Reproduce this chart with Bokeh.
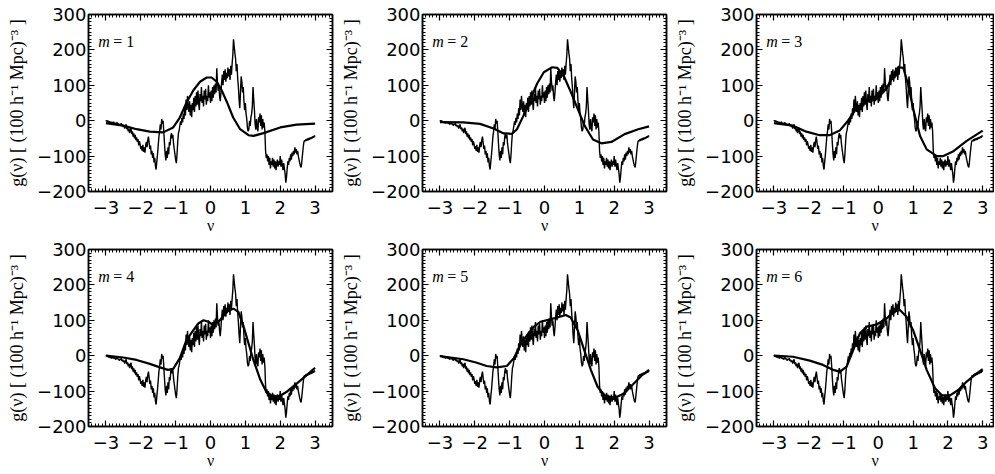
from bokeh.plotting import figure
from bokeh.layouts import gridplot
from bokeh.models import LinearAxis, SingleIntervalTicker, Label, Range1d, CustomJSTickFormatter
from bokeh.embed import file_html
from bokeh.resources import INLINE

# Observed curve g(nu), sampled every 0.02 in nu from -3 to 3 (same in every panel)
nu_obs = [round(-3.0 + 0.02 * i, 2) for i in range(301)]
g_obs = [
    # -3.00 .. -2.50
    -2, 1, -3, 0, -5, -2, -6, -3, -8, -4, -7, -3, -9, -6, -11, -7, -5, -10, -8, -14,
    -9, -12, -7, -15, -11, -18,
    # -2.48 .. -2.00
    -13, -22, -16, -10, -24, -19, -30, -22, -35, -27, -20, -38, -30, -45, -36, -50,
    -40, -55, -47, -60, -52, -70, -58, -66, -80,
    # -1.98 .. -1.50
    -72, -85, -68, -88, -75, -90, -70, -60, -75, -55, -45, -62, -80, -70, -95, -85,
    -105, -92, -118, -105, -128, -138, -115, -95, -70,
    # -1.48 .. -1.00
    -45, -30, -10, -25, 5, -8, 0, -30, -65, -95, -112, -85, -105, -75, -95, -60,
    -70, -45, -35, -50, -40, -65, -80, -95, -110,
    # -0.98 .. -0.50
    -120, -95, -60, -35, -28, -15, -2, -12, 8, -5, 20, 5, 35, 15, 60, 30,
    70, 40, 25, 55, 15, 45, 10, 50, 30,
    # -0.48 .. 0.00
    65, 25, 70, 40, 80, 45, 85, 50, 30, 75, 55, 95, 50, 70, 40, 85,
    60, 90, 45, 70, 55, 100, 65, 80, 50,
    # 0.02 .. 0.50
    85, 55, 95, 65, 100, 75, 105, 80, 148, 110, 85, 100, 70, 55, 80, 110,
    130, 100, 140, 115, 145, 110, 135, 120, 150,
    # 0.52 .. 1.00
    125, 145, 115, 155, 130, 160, 185, 230, 210, 190, 175, 140, 160, 120, 95, 60,
    35, 80, 125, 110, 80, 95, 55, 30, 50,
    # 1.02 .. 1.50
    20, 5, -20, -30, -25, 0, -15, 10, 20, 40, 95, 60, 30, -10, -25, 5,
    -20, -30, 10, -5, 20, -15, 15, -25, 5,
    # 1.52 .. 2.00
    -20, -5, -30, -85, -105, -95, -115, -100, -125, -105, -135, -115, -125, -105, -130, -110,
    -135, -115, -140, -120, -110, -130, -115, -125, -100,
    # 2.02 .. 2.50
    -130, -110, -125, -140, -120, -135, -150, -175, -160, -135, -115, -125, -105, -115, -95, -110,
    -90, -100, -85, -95, -75, -90, -80, -95, -85,
    # 2.52 .. 3.00
    -100, -110, -120, -128, -132, -115, -95, -75, -60, -55, -58, -52, -57, -50, -55, -49,
    -54, -47, -52, -46, -50, -44, -48, -42, -45,
]

# Model curves, one per panel
nu_m1 = [-3.0, -2.5, -2.12, -1.74, -1.36, -1.07, -0.88, -0.68, -0.49, -0.3,
         -0.11, 0.03, 0.18, 0.32, 0.47, 0.65, 0.85, 1.09, 1.23, 1.52, 2.0, 2.47, 3.0]
g_m1 = [-7, -14, -24, -31, -33, -19, 9, 53, 86, 110,
        122, 122, 110, 86, 53, 9, -24, -41, -43, -35, -19, -11, -8]

nu_m2 = [-3.0, -2.33, -1.85, -1.46, -1.17, -0.93, -0.79, -0.6, -0.4, -0.21,
         -0.02, 0.22, 0.37, 0.56, 0.75, 0.95, 1.15, 1.39, 1.63, 1.92, 2.3, 2.69, 3.0]
g_m2 = [-4, -5, -9, -22, -36, -37, -24, 15, 62, 105,
        137, 151, 149, 125, 82, 34, -14, -53, -64, -60, -38, -24, -16]

nu_m3 = [-3.0, -2.45, -2.07, -1.68, -1.4, -1.11, -0.87, -0.63, -0.34, -0.05,
         0.24, 0.43, 0.57, 0.72, 0.86, 1.0, 1.2, 1.39, 1.68, 1.87, 2.16, 2.54, 3.0]
g_m3 = [-7, -14, -31, -41, -41, -28, 0, 34, 53, 61,
        91, 130, 151, 149, 101, 34, -43, -81, -100, -100, -86, -57, -28]

nu_m4 = [-3.0, -2.5, -2.12, -1.74, -1.45, -1.22, -1.07, -0.88, -0.69, -0.49,
         -0.35, -0.2, -0.06, 0.08, 0.27, 0.47, 0.66, 0.8, 0.95, 1.09,
         1.23, 1.43, 1.62, 1.81, 2.0, 2.2, 2.48, 2.77, 3.0]
g_m4 = [0, -5, -12, -23, -33, -40, -37, -7, 44, 72,
        91, 100, 96, 86, 100, 124, 133, 124, 82, 35,
        -12, -68, -106, -115, -113, -101, -78, -54, -34]

nu_m5 = [-3.0, -2.33, -1.94, -1.66, -1.37, -1.08, -0.88, -0.69, -0.5, -0.3,
         -0.11, 0.13, 0.37, 0.61, 0.75, 0.95, 1.14, 1.33, 1.52, 1.71,
         2.0, 2.29, 2.57, 2.81, 3.0]
g_m5 = [-1, -10, -20, -29, -33, -29, -7, 30, 58, 82,
        96, 102, 108, 115, 108, 72, 16, -40, -87, -111,
        -120, -106, -78, -54, -40]

nu_m6 = [-3.0, -2.45, -1.97, -1.59, -1.3, -1.1, -0.91, -0.72, -0.53, -0.33,
         -0.05, 0.24, 0.43, 0.62, 0.81, 1.0, 1.2, 1.39, 1.63, 1.82,
         2.06, 2.3, 2.54, 2.83, 3.0]
g_m6 = [0, -3, -14, -26, -40, -45, -31, 16, 63, 82,
        88, 105, 124, 129, 110, 72, 16, -40, -92, -111,
        -112, -97, -73, -50, -38]

m_values = [1, 2, 3, 4, 5, 6]
x_ticks_interval = 1
y_ticks_interval = 100
y_label = "g(ν) [ (100 h⁻¹ Mpc)⁻³ ]"
x_label = "ν"

models = [(nu_m1, g_m1), (nu_m2, g_m2), (nu_m3, g_m3),
          (nu_m4, g_m4), (nu_m5, g_m5), (nu_m6, g_m6)]


def style_axis(ax, interval, hidden=False):
    ax.ticker = SingleIntervalTicker(interval=interval, num_minor_ticks=10)
    ax.major_tick_in = 6
    ax.major_tick_out = 0
    ax.minor_tick_in = 3
    ax.minor_tick_out = 0
    ax.axis_line_color = "black"
    ax.axis_line_width = 1.5
    ax.major_tick_line_color = "black"
    ax.minor_tick_line_color = "black"
    ax.major_tick_line_width = 1.2
    ax.minor_tick_line_width = 1
    ax.major_label_text_color = "black"
    ax.major_label_text_font = "DejaVu Sans"
    ax.major_label_text_font_size = "18px"
    ax.axis_label_text_font = "Liberation Serif"
    ax.axis_label_text_font_size = "16px"
    ax.axis_label_text_font_style = "normal"
    ax.axis_label_text_color = "black"
    if hidden:
        ax.formatter = CustomJSTickFormatter(code="return ''")
        ax.major_label_text_font_size = "1px"
        ax.major_label_standoff = 0


def make_panel(i):
    row, col = divmod(i, 3)
    w = 334 if col < 2 else 326
    h = 240 if row == 0 else 234
    top_b = 14 if row == 0 else 9
    x_end = 3.5 if col < 2 else 3.31
    p = figure(width=w, height=h,
               x_range=Range1d(-3.5, x_end), y_range=Range1d(-200, 300),
               output_backend="svg", toolbar_location=None,
               min_border_left=88, min_border_right=2 if col < 2 else 1,
               min_border_top=top_b, min_border_bottom=h - top_b - 177,
               x_axis_label=x_label, y_axis_label=y_label)
    p.grid.visible = False
    p.outline_line_color = "black"
    p.outline_line_width = 1.5
    p.background_fill_color = "white"
    p.border_fill_color = "white"

    style_axis(p.xaxis[0], x_ticks_interval)
    p.xaxis[0].major_label_standoff = 9
    p.xaxis[0].axis_label_standoff = 0
    style_axis(p.yaxis[0], y_ticks_interval)
    p.yaxis[0].major_label_standoff = 2
    p.yaxis[0].axis_label_standoff = 7
    p.yaxis[0].axis_label_text_font_size = "18px"

    top = LinearAxis()
    style_axis(top, x_ticks_interval, hidden=True)
    p.add_layout(top, "above")
    right = LinearAxis()
    style_axis(right, y_ticks_interval, hidden=True)
    p.add_layout(right, "right")

    p.line(nu_obs, g_obs, line_width=1.4, line_color="black")
    nu_fit, g_fit = models[i]
    p.line(nu_fit, g_fit, line_width=2.2, line_color="black")

    p.add_layout(Label(x=-3.22, y=225, text="m", text_font="Liberation Serif",
                       text_font_style="italic", text_font_size="16px",
                       text_color="black", text_baseline="alphabetic"))
    p.add_layout(Label(x=-3.22, y=225, x_offset=15, text="= %d" % m_values[i],
                       text_font="Liberation Serif", text_font_size="16px",
                       text_color="black", text_baseline="alphabetic"))
    return p


panels = [make_panel(i) for i in range(6)]
grid = gridplot([panels[0:3], panels[3:6]], toolbar_location=None)

open("out.html", "w").write(file_html(grid, INLINE))
